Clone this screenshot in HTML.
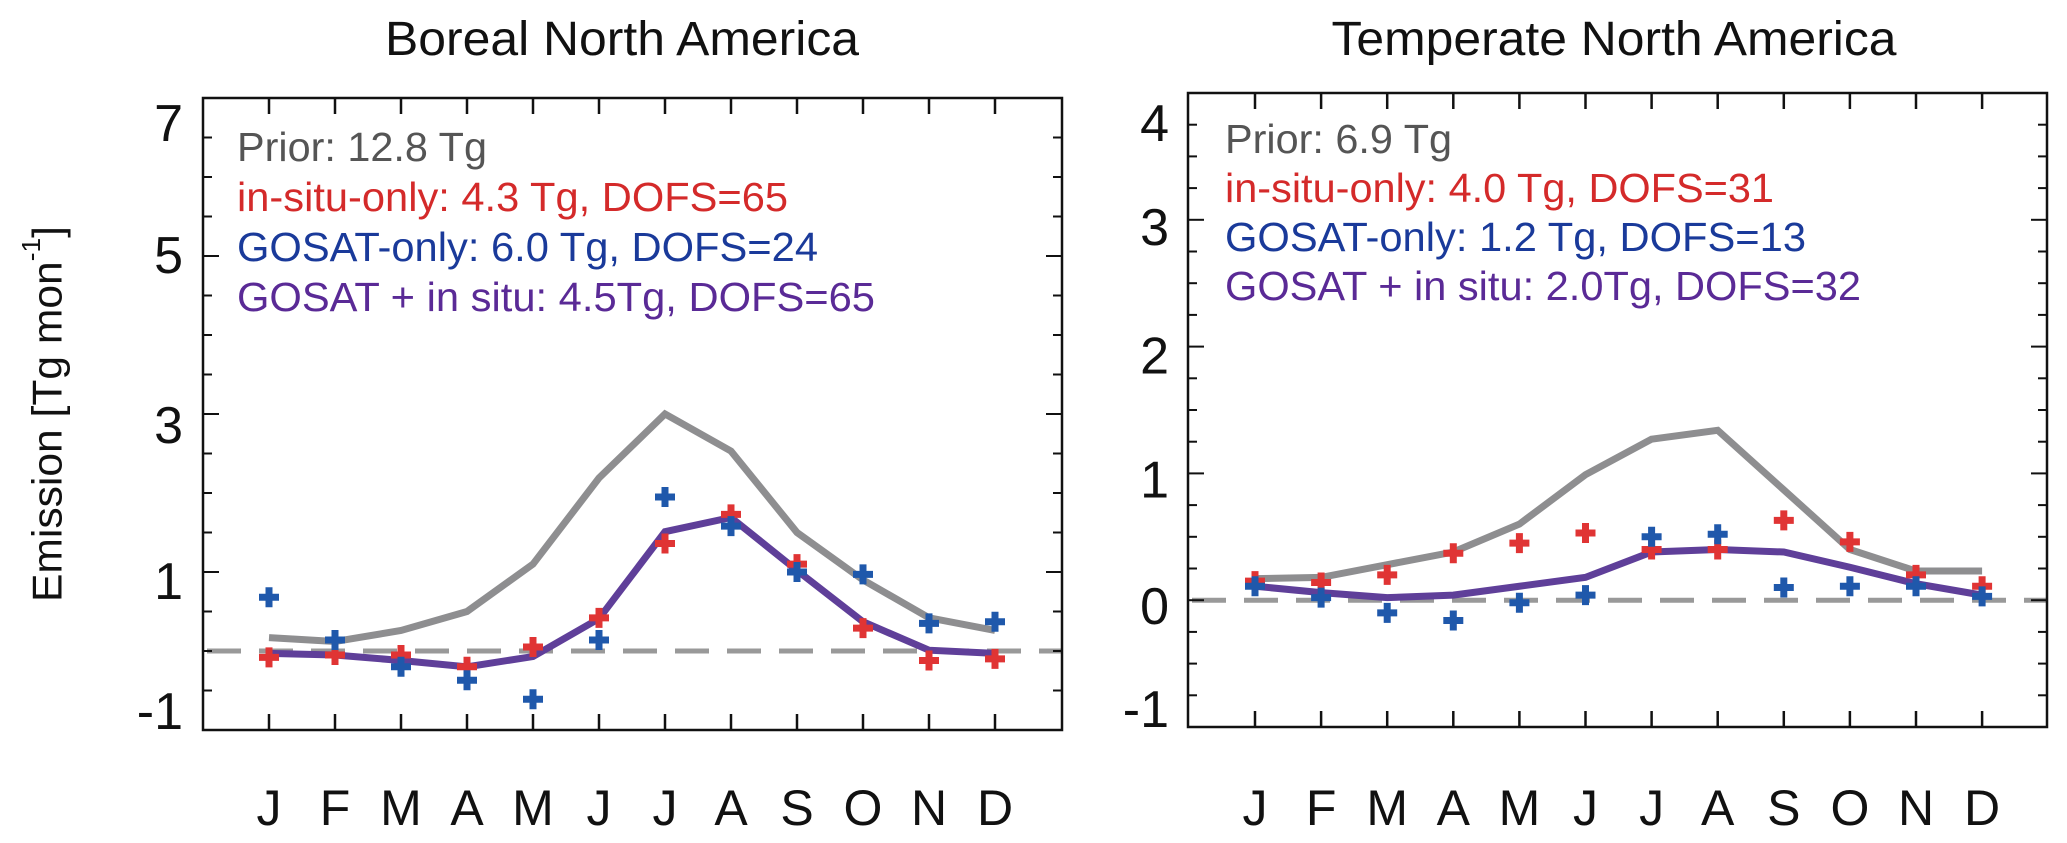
<!DOCTYPE html>
<html><head><meta charset="utf-8"><style>
html,body{margin:0;padding:0;background:#fff;}
svg{display:block;font-family:"Liberation Sans",Arial,sans-serif;}
</style></head><body>
<svg id="chart" width="2067" height="843" viewBox="0 0 2067 843">
<text x="47" y="414" transform="rotate(-90 47 414)" text-anchor="middle" dominant-baseline="central" font-size="42" fill="#111" textLength="376" lengthAdjust="spacingAndGlyphs">Emission [Tg mon<tspan dy="-16" font-size="26">-1</tspan><tspan dy="16">]</tspan></text>
</svg>
<script>
const months = ["J","F","M","A","M","J","J","A","S","O","N","D"];
// Boreal North America
const borealPrior = [0.17,0.12,0.26,0.5,1.1,2.19,3.0,2.53,1.5,0.9,0.42,0.26];
const borealCombined = [-0.03,-0.05,-0.12,-0.2,-0.07,0.41,1.51,1.69,1.02,0.37,0.01,-0.03];
const borealInsitu = [-0.08,-0.05,-0.05,-0.2,0.05,0.42,1.36,1.73,1.1,0.29,-0.12,-0.1];
const borealGosat = [0.68,0.14,-0.2,-0.37,-0.61,0.14,1.95,1.58,1.0,0.97,0.35,0.37];
const borealTicks = [7,5,3,1,-1];
const borealLegend = ["Prior: 12.8 Tg","in-situ-only: 4.3 Tg, DOFS=65","GOSAT-only: 6.0 Tg, DOFS=24","GOSAT + in situ: 4.5Tg, DOFS=65"];
// Temperate North America
const tempPrior = [0.17,0.18,0.28,0.38,0.6,0.99,1.27,1.34,0.87,0.4,0.23,0.23];
const tempCombined = [0.11,0.06,0.02,0.04,0.11,0.18,0.38,0.4,0.38,0.26,0.13,0.04];
const tempInsitu = [0.15,0.14,0.2,0.37,0.45,0.53,0.4,0.4,0.63,0.46,0.2,0.11];
const tempGosat = [0.11,0.02,-0.1,-0.16,-0.02,0.04,0.5,0.52,0.1,0.11,0.11,0.03];
const tempTicks = [4,3,2,1,0,-1];
const tempLegend = ["Prior: 6.9 Tg","in-situ-only: 4.0 Tg, DOFS=31","GOSAT-only: 1.2 Tg, DOFS=13","GOSAT + in situ: 2.0Tg, DOFS=32"];

const NS="http://www.w3.org/2000/svg";
const svg=document.getElementById('chart');
function mk(tag,attrs,parent){const e=document.createElementNS(NS,tag);for(const k in attrs)e.setAttribute(k,attrs[k]);(parent||svg).appendChild(e);return e;}
const legendColors=["#555","#d42a2a","#1a3a9a","#5a2a96"];

function panel(cfg){
  const g=mk('g',{});
  
  
  const {x0,x1,y0,y1,ymin,ymax,mx0,mstep}=cfg;
  const ys=v=>y1-(v-ymin)/(ymax-ymin)*(y1-y0);
  const xs=i=>mx0+i*mstep;
  const t=mk('text',{x:cfg.titleX,y:55,'text-anchor':'middle','font-size':48,fill:'#111',textLength:cfg.titleW,lengthAdjust:'spacingAndGlyphs'},g);
  t.textContent=cfg.title;
  
  
  const z=mk('line',{x1:x0,x2:x1,y1:ys(0),y2:ys(0),stroke:'#999','stroke-width':5,'stroke-dasharray':'34 18','stroke-dashoffset':-4},g);
  
  
  function line(vals,color,w,name){
    const p=mk('polyline',{points:vals.map((v,i)=>xs(i)+','+ys(v)).join(' '),fill:'none',stroke:color,'stroke-width':w,'stroke-linejoin':'miter'},g);
    
    
  }
  line(cfg.prior,'#8e8e90',7,'prior-line');
  line(cfg.combined,'#5f3f99',7,'combined-line');
  function crosses(vals,color,name){
    vals.forEach((v,i)=>{
      const cx=xs(i),cy=ys(v);
      const c=mk('path',{d:`M${cx-3.5},${cy-10}h7v6.5h6.5v7h-6.5v6.5h-7v-6.5h-6.5v-7h6.5z`,fill:color},g);
      
      
    });
  }
  crosses(cfg.insitu,'#e03434','insitu-marker');
  crosses(cfg.gosat,'#1f58ab','gosat-marker');
  const f=mk('rect',{x:x0,y:y0,width:x1-x0,height:y1-y0,fill:'none',stroke:'#111','stroke-width':2.5},g);
  
  
  months.forEach((m,i)=>{
    mk('line',{x1:xs(i),x2:xs(i),y1:y0,y2:y0+16,stroke:'#111','stroke-width':2.5},g);
    mk('line',{x1:xs(i),x2:xs(i),y1:y1,y2:y1-16,stroke:'#111','stroke-width':2.5},g);
    const l=mk('text',{x:xs(i),y:825,'text-anchor':'middle','font-size':50,fill:'#111'},g);
    l.textContent=m;
    
    
  });
  for(let v=ymin;v<=ymax+1e-9;v+=cfg.minor){
    const major=Math.abs(v-Math.round(v))<1e-9 && cfg.ticks.includes(Math.round(v));
    const len=major?16:9;
    mk('line',{x1:x0,x2:x0+len,y1:ys(v),y2:ys(v),stroke:'#111','stroke-width':2},g);
    mk('line',{x1:x1,x2:x1-len,y1:ys(v),y2:ys(v),stroke:'#111','stroke-width':2},g);
  }
  cfg.ticks.forEach((v,i)=>{
    const l=mk('text',{x:cfg.labelRight,y:ys(v)+cfg.labelShift[i],'text-anchor':'end','dominant-baseline':'central','font-size':52,fill:'#111'},g);
    l.textContent=v;
    
    
  });
  cfg.legend.forEach((s,i)=>{
    const l=mk('text',{x:cfg.legX,y:cfg.legY+i*cfg.legStep,'font-size':41,fill:legendColors[i]},g);
    l.textContent=s;
    l.setAttribute('textLength',cfg.legW[i]);
    l.setAttribute('lengthAdjust','spacingAndGlyphs');
    
    
  });
}
panel({name:'boreal-panel',title:'Boreal North America',titleX:622,titleW:474,x0:203,x1:1062,y0:98,y1:730,ymin:-1,ymax:7,minor:0.5,mx0:269,mstep:66,
  prior:borealPrior,combined:borealCombined,insitu:borealInsitu,gosat:borealGosat,ticks:borealTicks,labelRight:183,labelShift:[26,0,12,10,-18],
  legend:borealLegend,legX:237,legY:161,legStep:50,legW:[250,551,581,638]});
panel({name:'temperate-panel',title:'Temperate North America',titleX:1614,titleW:565,x0:1188,x1:2047,y0:93,y1:727,ymin:-1,ymax:4,minor:0.25,mx0:1255,mstep:66.1,
  prior:tempPrior,combined:tempCombined,insitu:tempInsitu,gosat:tempGosat,ticks:tempTicks,labelRight:1169,labelShift:[31,8,10,7,7,-17],
  legend:tempLegend,legX:1225,legY:153,legStep:49,legW:[227,549,581,636]});
</script>
</body></html>
